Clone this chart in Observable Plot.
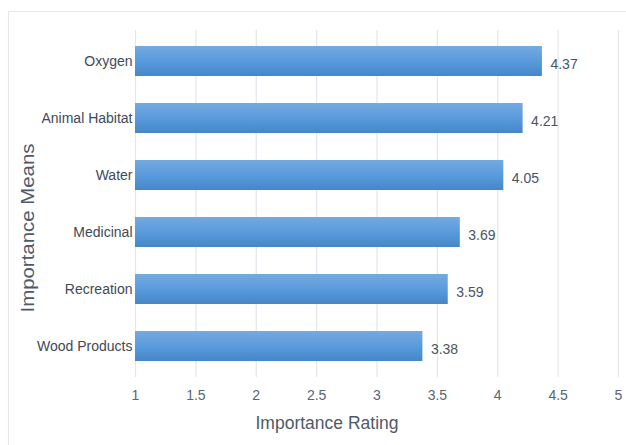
<!DOCTYPE html>
<html>
<head>
<meta charset="utf-8">
<script src="https://cdn.jsdelivr.net/npm/d3@7"></script>
<script src="https://cdn.jsdelivr.net/npm/@observablehq/plot@0.6"></script>
<style>
  html, body { margin: 0; padding: 0; background: #fff; }
  #wrap { position: relative; width: 626px; height: 445px; overflow: hidden; }
  #border { position: absolute; left: 8px; top: 11px; width: 640px; height: 460px; border: 1.5px solid #e4e8ee; box-sizing: border-box; }
  #chart { position: absolute; left: 0; top: 0; }
</style>
</head>
<body>
<div id="wrap"><div id="border"></div><div id="chart"></div></div>
<script>
const categories = ["Oxygen", "Animal Habitat", "Water", "Medicinal", "Recreation", "Wood Products"];
const values = [4.37, 4.21, 4.05, 3.69, 3.59, 3.38];
const xTicks = [1, 1.5, 2, 2.5, 3, 3.5, 4, 4.5, 5];
const xTitle = "Importance Rating";
const yTitle = "Importance Means";

const data = categories.map((c, i) => ({category: c, value: values[i]}));

const plot = Plot.plot({
  width: 626,
  height: 445,
  marginLeft: 135,
  marginRight: 8,
  marginTop: 30,
  marginBottom: 68,
  style: {fontSize: "14px", fontFamily: "'Liberation Sans', Arial, Helvetica, sans-serif", color: "#4a5463", background: "transparent"},
  x: {domain: [1, 5], ticks: xTicks, tickFormat: d => String(d), label: null},
  y: {domain: categories, paddingInner: 0.48, paddingOuter: 0.24, label: null},
  marks: [
    Plot.gridX(xTicks, {stroke: "#e3e6ec", strokeOpacity: 1, strokeWidth: 1.2}),
    () => {
      const ns = "http://www.w3.org/2000/svg";
      const defs = document.createElementNS(ns, "defs");
      defs.innerHTML = `<linearGradient id="barGrad" x1="0" y1="0" x2="0" y2="1">
        <stop offset="0" stop-color="#74aadf"/>
        <stop offset="0.5" stop-color="#5a9bdd"/>
        <stop offset="1" stop-color="#4586c8"/>
      </linearGradient>`;
      const g = document.createElementNS(ns, "g");
      g.appendChild(defs);
      return g;
    },
    Plot.barX(data, {x1: 1, x2: "value", y: "category", fill: "url(#barGrad)"}),
    Plot.text(data, {x: "value", y: "category", text: d => d.value.toFixed(2), textAnchor: "start", dx: 8, dy: 3, fill: "#4a5463", fontSize: 14}),
    Plot.axisX(xTicks, {tickSize: 0, tickPadding: 13, fill: "#5a6476", fontSize: 14, tickFormat: d => String(d), label: null}),
    Plot.axisY({tickSize: 0, tickPadding: 3, fill: "#404a57", fontSize: 14, label: null}),
    Plot.text([xTitle], {frameAnchor: "bottom", dy: 51, dx: -50, fill: "#4e5a6a", fontSize: 17.5}),
    Plot.text([yTitle], {frameAnchor: "left", dx: -107, dy: 108.5, rotate: -90, textAnchor: "start", fill: "#4e5a6a", fontSize: 17.5, className: "ytitle"})
  ]
});

document.getElementById("chart").appendChild(plot);
const yt = plot.querySelector(".ytitle text");
if (yt) { yt.setAttribute("textLength", "169"); yt.setAttribute("lengthAdjust", "spacingAndGlyphs"); }
</script>
</body>
</html>
